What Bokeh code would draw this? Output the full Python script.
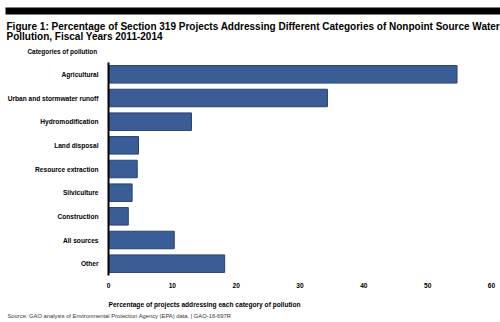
from bokeh.plotting import figure
from bokeh.layouts import column
from bokeh.models import FactorRange, Range1d, Label, BoxAnnotation, ColumnDataSource, FixedTicker
from bokeh.embed import file_html
from bokeh.resources import INLINE

categories = ["Agricultural", "Urban and stormwater runoff", "Hydromodification",
              "Land disposal", "Resource extraction", "Silviculture",
              "Construction", "All sources", "Other"]
values = [54.6, 34.3, 13.0, 4.7, 4.5, 3.7, 3.1, 10.3, 18.2]
x_ticks = [0, 10, 20, 30, 40, 50, 60]

title_1 = "Figure 1: Percentage of Section 319 Projects Addressing Different Categories of Nonpoint Source Water"
title_2 = "Pollution, Fiscal Years 2011-2014"
y_title = "Categories of pollution"
x_title = "Percentage of projects addressing each category of pollution"
source_note = "Source: GAO analysis of Environmental Protection Agency (EPA) data.  |  GAO-16-697R"

FONT = "Liberation Sans"
W = 500
TOP_H = 56        # header strip: canvas y 0..56
BOT_Y0 = 292      # footer strip: canvas y 292..322
TOTAL_H = 322


def strip(y0, y1):
    """A blank figure whose data coordinates equal page pixels (y grows downward)."""
    f = figure(width=W, height=y1 - y0, output_backend="svg", toolbar_location=None,
               x_range=Range1d(0, W), y_range=Range1d(y1, y0),
               x_axis_type=None, y_axis_type=None, frame_align=False,
               min_border=0, min_border_left=0, min_border_right=0,
               min_border_top=0, min_border_bottom=0)
    f.outline_line_color = None
    f.grid.visible = False
    return f


def lab(f, text, x, y, size, bold=True, color="black"):
    f.add_layout(Label(x=x, y=y, text=text, text_font=FONT, text_font_size=size,
                       text_font_style="bold" if bold else "normal",
                       text_color=color, text_baseline="alphabetic", text_align="left"))


# ---- header
top = strip(0, TOP_H)
top.add_layout(BoxAnnotation(left=5, right=500, top=7, bottom=14,
                             fill_color="black", fill_alpha=1, line_color=None))
lab(top, title_1, 6, 26, "10px")
lab(top, title_2, 6, 35.6, "10px")
lab(top, y_title, 27, 51, "6.4px")

# ---- main chart (canvas y 56..292, frame y 62..275, frame x 108..491)
p = figure(width=W, height=BOT_Y0 - TOP_H, output_backend="svg", toolbar_location=None,
           y_range=FactorRange(factors=list(reversed(categories)), range_padding=0),
           x_range=Range1d(0, 60), frame_align=False,
           min_border_left=108, min_border_right=9, min_border_top=62 - TOP_H,
           min_border_bottom=BOT_Y0 - 275)
p.outline_line_color = None
p.grid.visible = False

src = ColumnDataSource(dict(cat=categories, val=values))
p.hbar(y="cat", right="val", left=0, height=0.74, source=src,
       fill_color="#3A5D98", line_color="#26436F", line_width=1)

ya = p.yaxis[0]
ya.axis_line_color = "black"
ya.axis_line_width = 2
ya.major_tick_line_color = None
ya.minor_tick_line_color = None
ya.major_tick_out = 0
ya.major_label_standoff = 10
ya.major_label_text_font = FONT
ya.major_label_text_font_style = "bold"
ya.major_label_text_font_size = "6.6px"
ya.major_label_text_color = "black"

xa = p.xaxis[0]
xa.ticker = FixedTicker(ticks=x_ticks)
xa.axis_line_color = None
xa.major_tick_line_color = None
xa.minor_tick_line_color = None
xa.major_tick_out = 0
xa.major_label_standoff = 7
xa.major_label_text_font = FONT
xa.major_label_text_font_style = "bold"
xa.major_label_text_font_size = "6.6px"
xa.major_label_text_color = "black"

# ---- footer
bot = strip(BOT_Y0, TOTAL_H)
lab(bot, x_title, 108, 304, "6.6px")
lab(bot, source_note, 7, 315.5, "5.8px", bold=False, color="#333333")

layout = column(top, p, bot, spacing=0)
open("out.html", "w").write(file_html(layout, INLINE))
